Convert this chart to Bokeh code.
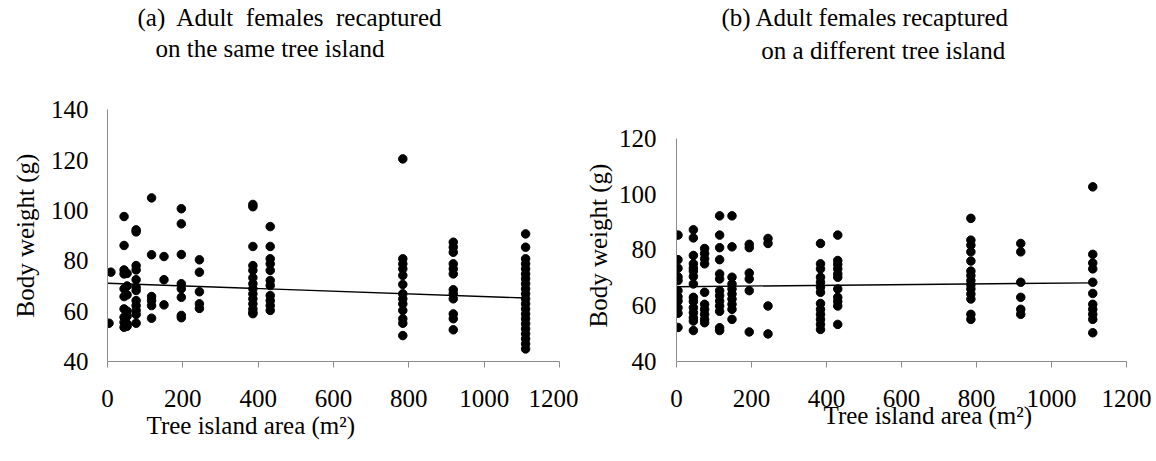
from bokeh.plotting import figure
from bokeh.models import Range1d, Title, FixedTicker, Label
from bokeh.layouts import row
from bokeh.embed import file_html
from bokeh.resources import INLINE

FONT = "Liberation Serif"

# ---------------- data ----------------
# Panel (a): adult females recaptured on the same tree island
areas_a = [4, 9, 44, 52, 76, 117, 150, 196, 244, 386, 432, 784, 918, 1110]
weights_a = [
    [55.2],
    [75.5],
    [97.6, 86.1, 76.4, 74.8, 68.9, 65.8, 60.9, 57.6, 55.6, 53.6],
    [75.0, 70.0, 66.5, 60.0, 58.0, 55.0, 54.0],
    [92.3, 91.5, 78.1, 76.4, 72.5, 69.5, 68.2, 64.2, 62.2, 60.3, 58.7, 55.2],
    [105.0, 82.4, 65.8, 64.2, 62.2, 57.2],
    [81.7, 72.5, 62.5],
    [100.7, 94.7, 82.5, 70.9, 68.9, 65.5, 58.3, 57.4],
    [80.4, 75.5, 67.7, 62.9, 61.1],
    [102.4, 101.5, 85.7, 78.1, 76.2, 73.3, 70.9, 68.9, 66.9, 64.9, 62.9, 60.9, 59.5, 59.0],
    [93.6, 85.7, 80.8, 78.8, 76.2, 72.2, 70.2, 66.2, 64.2, 62.2, 60.3],
    [120.5, 80.8, 78.8, 76.8, 74.2, 70.6, 66.9, 64.9, 62.9, 60.3, 57.0, 55.2, 50.3],
    [87.4, 85.4, 83.4, 78.8, 76.8, 74.8, 68.5, 66.9, 64.9, 58.9, 57.0, 52.6],
    [90.7, 85.4, 80.8, 78.8, 76.8, 74.8, 72.9, 70.9, 68.9, 66.9, 64.9, 62.9,
     60.9, 58.9, 57.0, 55.0, 53.0, 51.0, 49.0, 47.0, 45.0],
]
trend_a = {"intercept": 71.1, "slope": -0.0053, "x_end": 1110}

# Panel (b): adult females recaptured on a different tree island
areas_b = [4, 45, 75, 115, 148, 194, 244, 384, 430, 785, 918, 1110]
weights_b = [
    [85.3, 76.5, 73.4, 70.3, 69.0, 65.4, 63.2, 61.7, 59.3, 57.3, 52.2],
    [87.2, 84.3, 78.0, 75.0, 73.5, 72.4, 70.5, 67.8, 63.0, 61.5, 59.3, 57.5, 55.7, 54.5, 51.1],
    [80.5, 78.7, 76.8, 75.0, 64.8, 60.5, 58.7, 56.9, 55.1, 53.9],
    [92.2, 85.3, 80.8, 76.5, 71.4, 69.6, 65.4, 63.6, 61.7, 59.9, 58.0, 52.1, 51.1],
    [92.2, 81.1, 70.2, 67.8, 66.0, 64.2, 62.4, 60.5, 58.7, 55.1],
    [82.0, 80.8, 71.7, 69.6, 65.4, 50.6],
    [84.1, 82.3, 59.9, 49.9],
    [82.3, 75.0, 73.2, 70.2, 68.4, 66.6, 64.8, 60.8, 58.7, 56.9, 55.1, 53.3, 51.5],
    [85.3, 76.2, 74.8, 73.2, 71.4, 70.2, 66.0, 63.0, 61.5, 59.9, 53.3],
    [91.3, 83.5, 81.7, 79.3, 76.0, 72.4, 70.8, 69.0, 67.5, 66.0, 64.2, 62.4, 56.9, 55.1],
    [82.3, 79.3, 68.4, 63.0, 58.7, 56.9],
    [102.6, 78.4, 75.3, 73.2, 68.4, 64.4, 60.5, 58.7, 56.9, 55.1, 50.3],
]
trend_b = {"intercept": 66.8, "slope": 0.00126, "x_end": 1110}

x_ticks = [0, 200, 400, 600, 800, 1000, 1200]
y_ticks_a = [40, 60, 80, 100, 120, 140]
y_ticks_b = [40, 60, 80, 100, 120]

title_a = ["(a)\u00a0 Adult\u00a0 females\u00a0 recaptured", "on the same tree island"]
title_b = ["(b) Adult females recaptured", "on a different tree island"]
x_label = "Tree island area (m\u00b2)"
y_label = "Body weight (g)"

H = 461
BOTTOM = 100          # bottom border; the frame runs from the top of the canvas
FRAME_H = H - BOTTOM  # 361 px


def flatten(areas, weights):
    xs, ys = [], []
    for a, ws in zip(areas, weights):
        for w in ws:
            xs.append(a)
            ys.append(w)
    return xs, ys


def panel(areas, weights, trend, yticks, titles, geom):
    ymin = yticks[0]
    ymax = ymin + FRAME_H / geom["px_per_unit"]
    frame_w = 578 - geom["left"] - geom["right"]
    p = figure(width=578, height=H,
               x_range=Range1d(0, 1200), y_range=Range1d(ymin, ymax),
               output_backend="svg", toolbar_location=None, title_location=None,
               min_border_left=geom["left"], min_border_right=geom["right"],
               min_border_top=0, min_border_bottom=BOTTOM)
    p.outline_line_color = None
    p.grid.visible = False
    p.background_fill_color = "white"
    p.border_fill_color = "white"

    xs, ys = flatten(areas, weights)
    p.scatter(xs, ys, marker="circle", size=8.5, color="black")
    x0, x1 = 0, trend["x_end"]
    p.line([x0, x1], [trend["intercept"] + trend["slope"] * x0,
                      trend["intercept"] + trend["slope"] * x1],
           line_color="black", line_width=1.4)

    axis_col = "#8c8c8c"
    xa = p.xaxis[0]
    xa.ticker = FixedTicker(ticks=x_ticks)
    xa.axis_line_color = axis_col
    xa.major_tick_line_color = axis_col
    xa.major_tick_out = 6
    xa.major_tick_in = 0
    xa.minor_tick_line_color = None
    xa.major_label_standoff = 22
    xa.major_label_text_font = FONT
    xa.major_label_text_font_size = "25px"
    xa.major_label_text_color = "black"

    ya = p.yaxis[0]
    ya.ticker = FixedTicker(ticks=yticks)
    ya.bounds = (yticks[0], yticks[-1])
    ya.axis_line_color = axis_col
    ya.major_tick_line_color = None
    ya.major_tick_out = 0
    ya.major_tick_in = 0
    ya.minor_tick_line_color = None
    ya.major_label_standoff = geom["ystand"]
    ya.major_label_text_font = FONT
    ya.major_label_text_font_size = "25px"
    ya.major_label_text_color = "black"

    # y-axis label: a rotated title on the left, placed along the axis bounds
    p.add_layout(Title(text=y_label, align="left", offset=geom["ylab_off"],
                       text_font=FONT, text_font_size="25px",
                       text_font_style="normal", text_color="black",
                       standoff=geom["ylab_stand"]), "left")

    # x-axis label as a left-aligned title below the axis
    p.add_layout(Title(text=x_label, align="left", offset=geom["xlab_off"],
                       text_font=FONT, text_font_size="25px",
                       text_font_style="normal", text_color="black",
                       standoff=geom["xlab_stand"]), "below")

    # two-line heading, drawn inside the (invisible) upper part of the frame;
    # placement given in pixels from the frame's left edge / canvas top
    for txt, (dx, top) in zip(titles, geom["heading"]):
        lx = dx * 1200 / frame_w
        ly = ymin + (FRAME_H - top) / geom["px_per_unit"]
        p.add_layout(Label(x=lx, y=ly, text=txt, text_align="left",
                           text_baseline="middle", text_font=FONT,
                           text_font_size="25px", text_color="black"))
    return p


geom_a = dict(left=107, right=19, px_per_unit=2.517, ystand=19,
              ylab_off=44, ylab_stand=18,
              xlab_off=39, xlab_stand=1,
              heading=[(30, 17), (48, 48)])
geom_b = dict(left=97, right=30, px_per_unit=2.79, ystand=20,
              ylab_off=34, ylab_stand=8,
              xlab_off=147, xlab_stand=-20,
              heading=[(45, 17), (85, 50)])

pa = panel(areas_a, weights_a, trend_a, y_ticks_a, title_a, geom_a)
pb = panel(areas_b, weights_b, trend_b, y_ticks_b, title_b, geom_b)

layout = row(pa, pb)
open("out.html", "w").write(file_html(layout, INLINE))
